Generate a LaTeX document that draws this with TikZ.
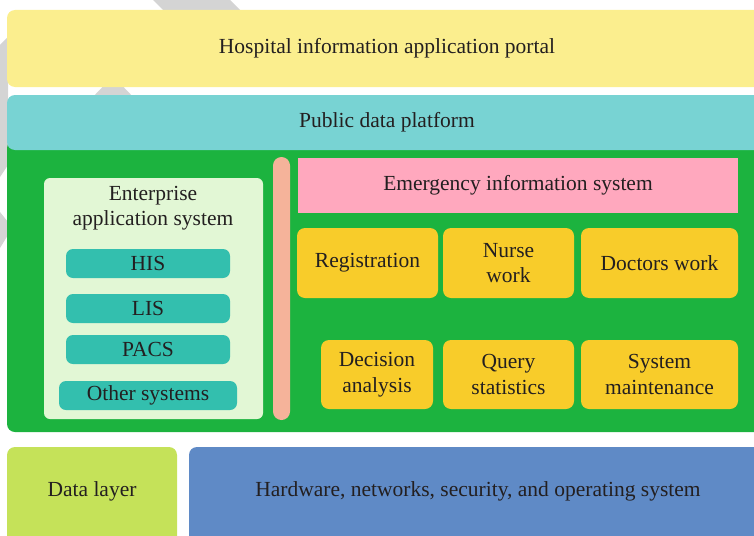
\documentclass[tikz,border=0pt]{standalone}
\usepackage{fontspec}
\setmainfont{Liberation Serif}
\definecolor{portal}{HTML}{FBEE8E}
\definecolor{platform}{HTML}{78D3D3}
\definecolor{appgreen}{HTML}{1CB33F}
\definecolor{entpanel}{HTML}{E2F7D5}
\definecolor{subsys}{HTML}{33BFAE}
\definecolor{divider}{HTML}{F5B39A}
\definecolor{emerg}{HTML}{FFA8BE}
\definecolor{module}{HTML}{F8CC2A}
\definecolor{datal}{HTML}{C5E259}
\definecolor{hwblue}{HTML}{5F8AC6}
\definecolor{wmark}{HTML}{D4D4D4}
\definecolor{ink}{HTML}{231F20}
\tikzset{
  lbl/.style={text=ink, align=center, inner sep=0pt, font=\fontsize{21.5}{25.5}\selectfont},
  blk/.style={lbl, rounded corners=8pt, minimum width=#1},
  blk/.default=100pt,
  sysbox/.style={lbl, fill=subsys, rounded corners=7pt, minimum height=29pt, minimum width=#1},
  modbox/.style={lbl, fill=module, rounded corners=8pt, minimum width=#1},
}

\begin{document}
\begin{tikzpicture}[x=1pt, y=-1pt]
    \useasboundingbox (0, 0) rectangle (754, 535);
    \clip (0, 0) rectangle (754, 535);
    \fill[wmark](153, 0)--(230, 0)--(245, 15)--(168, 15)--cycle;
    \fill[wmark](113, 76)--(136, 100)--(90, 100)--cycle;
    \fill[wmark](0, 45)--(8, 37)--(8, 165)--(0, 177)--cycle;
    \fill[wmark](0, 212)--(8, 222)--(8, 235)--(0, 248)--cycle;
    \node[blk=760pt, fill=portal, minimum height=77pt](portal)at(387, 48.5){Hospital information application portal};
    \node[blk=760pt, fill=appgreen, minimum height=292pt](apps)at(387, 286){};
    \node[blk=760pt, fill=platform, minimum height=55pt](platform)at(387, 122.5){Public data platform};
    \node[blk=219pt, rounded corners=6pt, fill=entpanel, minimum height=241pt](enterprise)at(153.5, 298.5){};
    \node[lbl](enttitle)at(153, 208){Enterprise\\application system};
    \node[sysbox=164pt](his)at(148, 263.5){HIS};
    \node[sysbox=164pt](lis)at(148, 308.5){LIS};
    \node[sysbox=164pt](pacs)at(148, 349.5){PACS};
    \node[sysbox=178pt](other)at(148, 395.5){Other systems};
    \node[lbl, fill=divider, rounded corners=8.5pt, minimum width=17pt, minimum height=263pt](divider)at(281.5, 288.5){};
    \node[lbl, fill=emerg, minimum width=440pt, minimum height=55pt](emergency)at(518, 185.5){Emergency information system};
    \node[modbox=141pt, minimum height=70pt](registration)at(367.5, 263){Registration};
    \node[modbox=131pt, minimum height=70pt](nurse)at(508.5, 263){Nurse\\work};
    \node[modbox=157pt, minimum height=70pt](doctors)at(659.5, 263){Doctors work};
    \node[modbox=112pt, minimum height=69pt](decision)at(377, 374.5){Decision\\analysis};
    \node[modbox=131pt, minimum height=69pt](query)at(508.5, 374.5){Query\\statistics};
    \node[modbox=157pt, minimum height=69pt](maintenance)at(659.5, 374.5){System\\maintenance};
    \node[blk=170pt, fill=datal, minimum height=98pt, label={[lbl, yshift=5pt]center:Data layer}](data)at(92, 496){};
    \node[blk=578pt, fill=hwblue, minimum height=98pt, label={[lbl, yshift=5pt]center:Hardware, networks, security, and operating system}](hardware)at(478, 496){};
\end{tikzpicture}
\end{document}
